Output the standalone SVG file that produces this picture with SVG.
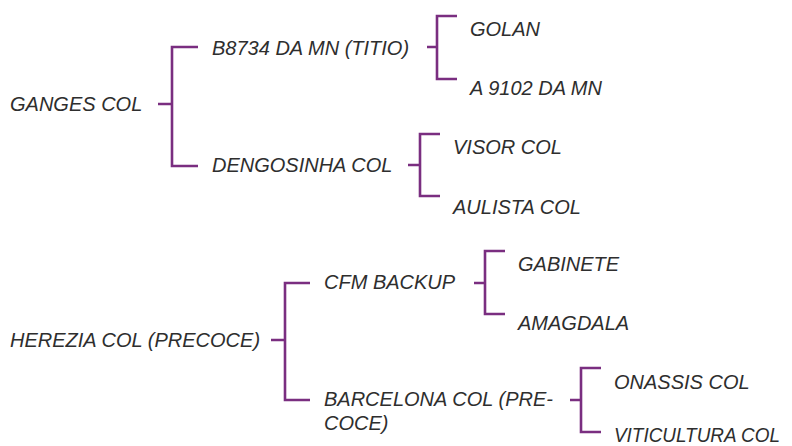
<svg xmlns="http://www.w3.org/2000/svg" width="792" height="446" viewBox="0 0 792 446">
<style>
text{font-family:"Liberation Sans",Arial,sans-serif;font-style:italic;font-size:20px;fill:#2e2e2e}
.c path{fill:none;stroke:#7a2e80;stroke-width:2.6}
</style>
<rect width="792" height="446" fill="#fff"/>
<g class="c" id="connectors">
<path d="M158,104H172M198,47H172V166H198"/>
<path d="M427,47H437M457,16H437V79H457"/>
<path d="M408,165H420M440,134H420V196H440"/>
<path d="M271,340H285M310,283H285V400H310"/>
<path d="M474,283H485M505,251H485V314H505"/>
<path d="M570,400H581M601,368H581V432H601"/>
</g>
<g id="n1"><text x="10" y="111">GANGES COL</text></g>
<g id="n2"><text x="212" y="55">B8734 DA MN (TITIO)</text></g>
<g id="n3"><text x="212" y="172">DENGOSINHA COL</text></g>
<g id="n4"><text x="470" y="36">GOLAN</text></g>
<g id="n5"><text x="470" y="95">A 9102 DA MN</text></g>
<g id="n6"><text x="453" y="154">VISOR COL</text></g>
<g id="n7"><text x="453" y="214">AULISTA COL</text></g>
<g id="n8"><text x="10" y="347">HEREZIA COL (PRECOCE)</text></g>
<g id="n9"><text x="324" y="289">CFM BACKUP</text></g>
<g id="n10"><text x="324" y="406">BARCELONA COL (PRE-</text><text x="324" y="430">COCE)</text></g>
<g id="n11"><text x="518" y="271">GABINETE</text></g>
<g id="n12"><text x="518" y="330">AMAGDALA</text></g>
<g id="n13"><text x="614" y="389">ONASSIS COL</text></g>
<g id="n14"><text x="614" y="442" font-size="19" textLength="166" lengthAdjust="spacingAndGlyphs">VITICULTURA COL</text></g>
</svg>
